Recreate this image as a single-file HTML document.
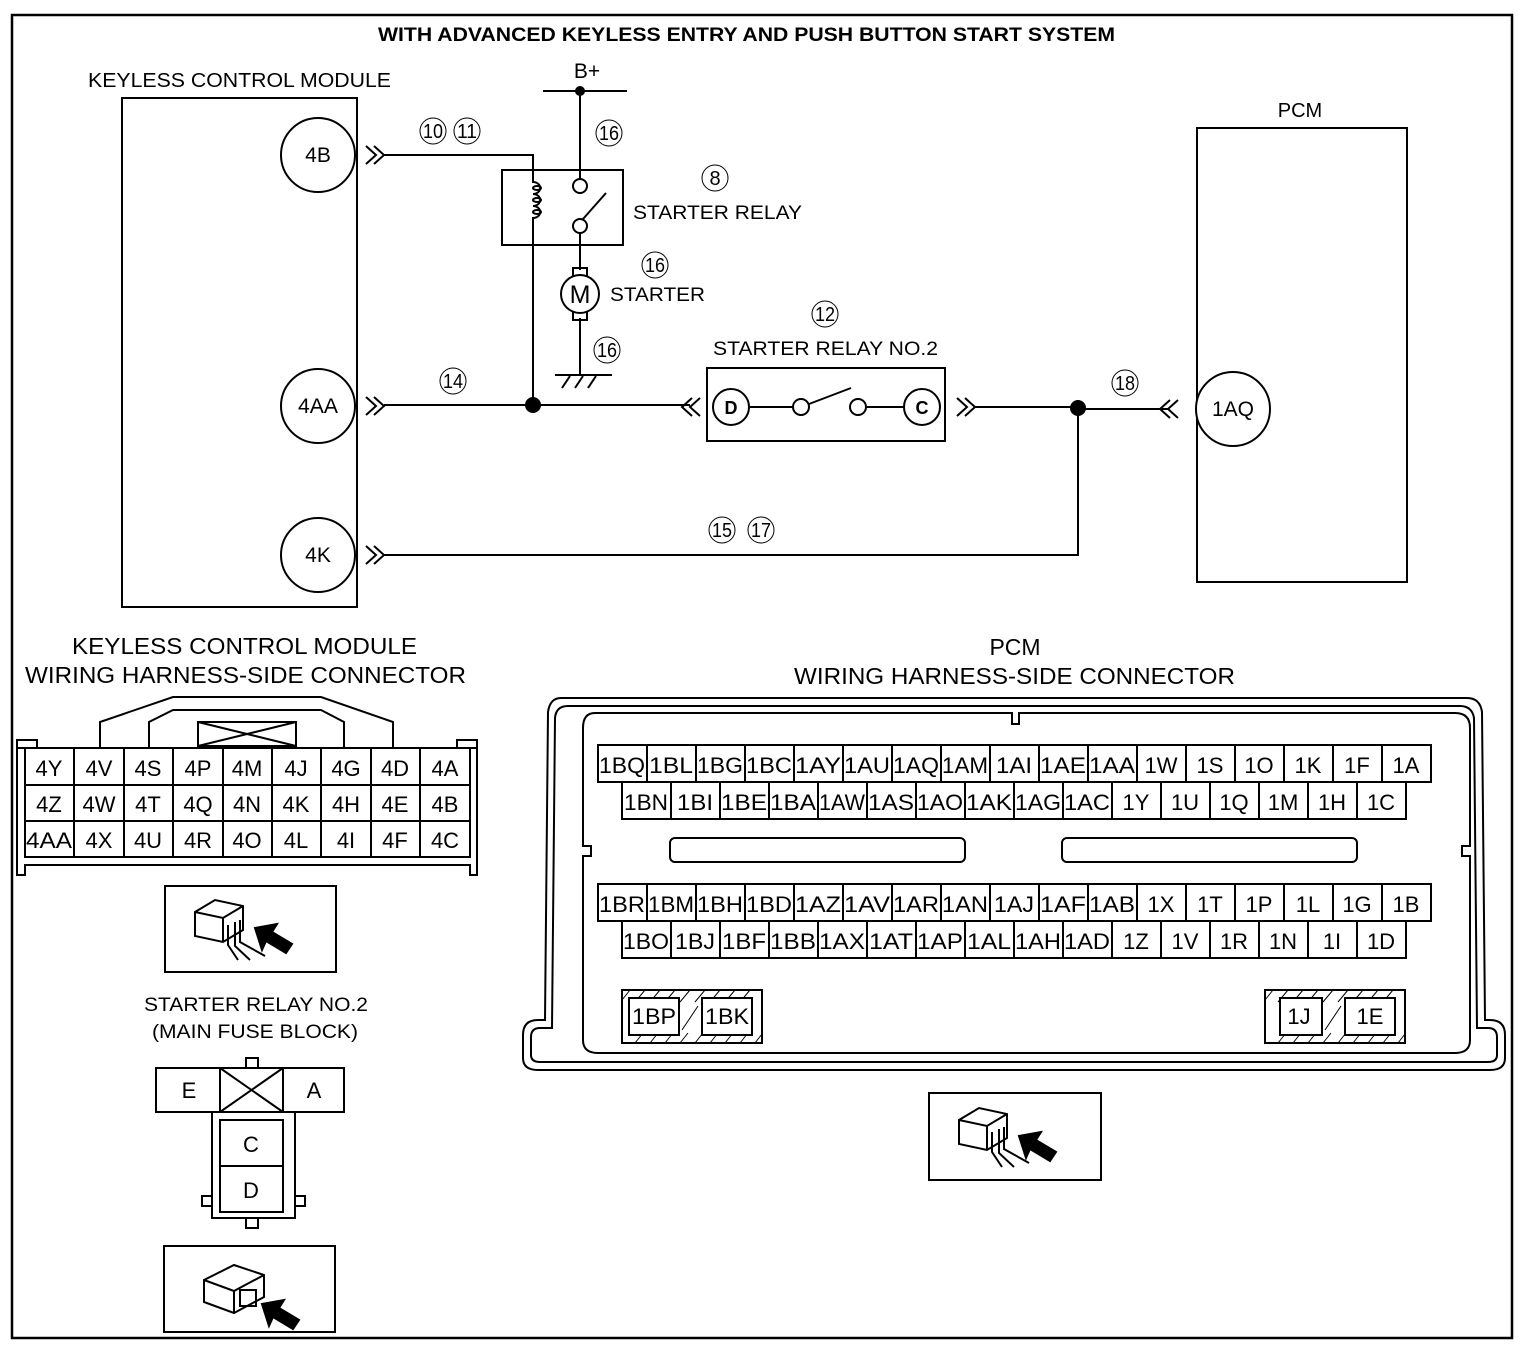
<!DOCTYPE html>
<html><head><meta charset="utf-8"><style>
html,body{margin:0;padding:0;background:#fff}
svg{display:block}
text{font-family:"Liberation Sans",sans-serif;fill:#000}
</style></head><body>
<svg width="1526" height="1350" viewBox="0 0 1526 1350" xmlns="http://www.w3.org/2000/svg">
<rect x="12" y="15" width="1500" height="1323" fill="none" stroke="#000" stroke-width="2.5"/>
<text x="378" y="41" font-size="19" font-weight="bold" textLength="737" lengthAdjust="spacingAndGlyphs">WITH ADVANCED KEYLESS ENTRY AND PUSH BUTTON START SYSTEM</text>
<text x="88" y="87" font-size="20" textLength="303" lengthAdjust="spacingAndGlyphs">KEYLESS CONTROL MODULE</text>
<text x="1300" y="117" font-size="20" text-anchor="middle">PCM</text>

<g fill="none" stroke="#000" stroke-width="2">
<rect x="122" y="98" width="235" height="509"/>
<rect x="1197" y="128" width="210" height="454"/>
<circle cx="318" cy="155" r="37" fill="#fff"/>
<circle cx="318" cy="406" r="37" fill="#fff"/>
<circle cx="318" cy="555" r="37" fill="#fff"/>
<circle cx="1233" cy="409" r="37" fill="#fff"/>
<path d="M366 146l10 9-10 9M374 146l10 9-10 9"/>
<path d="M366 397l10 9-10 9M374 397l10 9-10 9"/>
<path d="M366 546l10 9-10 9M374 546l10 9-10 9"/>
<path d="M700 398l-10 9 10 9M692 398l-10 9 10 9"/>
<path d="M957 398l10 9-10 9M965 398l10 9-10 9"/>
<path d="M1178 400l-10 9 10 9M1170 400l-10 9 10 9"/>
<path d="M384 155H533V170M533 245V405M384 405H690M975 407H1078V555H384M1078 409H1168"/>
<path d="M543 91H627M580 91V179M580 233V245M580 245V270M580 318V375M555 375H612"/>
<path d="M562 388l8-12M575 388l8-12M588 388l8-12"/>
<rect x="502" y="170" width="121" height="75"/>
<path d="M533 170V182 a6 5 0 0 1 0 12 a6 5 0 0 1 0 12 a6 5 0 0 1 0 12 V245"/>
<ellipse cx="537" cy="188" rx="4" ry="2"/><ellipse cx="537" cy="200" rx="4" ry="2"/><ellipse cx="537" cy="212" rx="4" ry="2"/>
<circle cx="580" cy="186" r="7" fill="#fff"/><circle cx="580" cy="226" r="7" fill="#fff"/>
<path d="M583 219L606 193"/>
<rect x="573" y="268" width="14" height="8"/><rect x="573" y="312" width="14" height="8"/>
<circle cx="580" cy="294" r="19" fill="#fff"/>
<rect x="707" y="368" width="238" height="73"/>
<circle cx="731" cy="407" r="18" fill="#fff"/><circle cx="922" cy="407" r="18" fill="#fff"/>
<path d="M749 407H793M866 407H904M809 404L851 388"/>
<circle cx="801" cy="407" r="8" fill="#fff"/><circle cx="858" cy="407" r="8" fill="#fff"/>
</g>
<circle cx="580" cy="91" r="5"/><circle cx="533" cy="405" r="8"/><circle cx="1078" cy="408" r="8"/>
<g font-size="21" text-anchor="middle">
<text x="318" y="162">4B</text><text x="318" y="413" textLength="40" lengthAdjust="spacingAndGlyphs">4AA</text><text x="318" y="562">4K</text><text x="1233" y="416">1AQ</text>
<text x="587" y="78">B+</text>
<text x="580" y="303" font-size="25">M</text>
<text x="731" y="414" font-size="18" font-weight="bold">D</text><text x="922" y="414" font-size="18" font-weight="bold">C</text>
</g>
<g font-size="19">
<text x="633" y="219" textLength="169" lengthAdjust="spacingAndGlyphs">STARTER RELAY</text>
<text x="610" y="301" textLength="95" lengthAdjust="spacingAndGlyphs">STARTER</text>
<text x="713" y="355" textLength="225" lengthAdjust="spacingAndGlyphs">STARTER RELAY NO.2</text>
</g>
<g fill="none" stroke="#000" stroke-width="1">
<circle cx="433" cy="131" r="13"/><circle cx="467" cy="131" r="13"/><circle cx="609" cy="133" r="13"/>
<circle cx="715" cy="178" r="13"/><circle cx="655" cy="265" r="13"/><circle cx="607" cy="350" r="13"/>
<circle cx="825" cy="314" r="13"/><circle cx="453" cy="381" r="13"/><circle cx="1125" cy="383" r="13"/>
<circle cx="722" cy="530" r="13"/><circle cx="761" cy="530" r="13"/>
</g>
<g font-size="20" text-anchor="middle">
<text x="433" y="138" textLength="20" lengthAdjust="spacingAndGlyphs">10</text>
<text x="467" y="138" textLength="20" lengthAdjust="spacingAndGlyphs">11</text>
<text x="609" y="140" textLength="20" lengthAdjust="spacingAndGlyphs">16</text>
<text x="715" y="185">8</text>
<text x="655" y="272" textLength="20" lengthAdjust="spacingAndGlyphs">16</text>
<text x="607" y="357" textLength="20" lengthAdjust="spacingAndGlyphs">16</text>
<text x="825" y="321" textLength="20" lengthAdjust="spacingAndGlyphs">12</text>
<text x="453" y="388" textLength="20" lengthAdjust="spacingAndGlyphs">14</text>
<text x="1125" y="390" textLength="20" lengthAdjust="spacingAndGlyphs">18</text>
<text x="722" y="537" textLength="20" lengthAdjust="spacingAndGlyphs">15</text>
<text x="761" y="537" textLength="20" lengthAdjust="spacingAndGlyphs">17</text>
</g>

<g font-size="23">
<text x="72" y="654" textLength="345" lengthAdjust="spacingAndGlyphs">KEYLESS CONTROL MODULE</text>
<text x="25" y="683" textLength="441" lengthAdjust="spacingAndGlyphs">WIRING HARNESS-SIDE CONNECTOR</text>
<text x="1015" y="655" text-anchor="middle">PCM</text>
<text x="794" y="684" textLength="441" lengthAdjust="spacingAndGlyphs">WIRING HARNESS-SIDE CONNECTOR</text>
</g>

<g fill="none" stroke="#000" stroke-width="2">
<path d="M100 748V722L173 697H321L393 722V748"/>
<path d="M149 748V722L173 710H321L344 722V748"/>
<rect x="198" y="722" width="98" height="24"/>
<path d="M198 722L296 746M296 722L198 746"/>
<path d="M17 748V740H37V748M457 748V740H477V748M17 748H477V875H470V865H25V875H17Z"/>
<rect x="25" y="748" width="445" height="109"/>
<path d="M25 785H470M25 821H470M74 748V857M124 748V857M173 748V857M223 748V857M272 748V857M321 748V857M371 748V857M420 748V857"/>
</g>
<g font-size="22" text-anchor="middle">
<text x="49" y="776">4Y</text><text x="99" y="776">4V</text><text x="148" y="776">4S</text><text x="198" y="776">4P</text><text x="247" y="776">4M</text><text x="296" y="776">4J</text><text x="346" y="776">4G</text><text x="395" y="776">4D</text><text x="445" y="776">4A</text>
<text x="49" y="812">4Z</text><text x="99" y="812">4W</text><text x="148" y="812">4T</text><text x="198" y="812">4Q</text><text x="247" y="812">4N</text><text x="296" y="812">4K</text><text x="346" y="812">4H</text><text x="395" y="812">4E</text><text x="445" y="812">4B</text>
<text x="49" y="848" textLength="46" lengthAdjust="spacingAndGlyphs">4AA</text><text x="99" y="848">4X</text><text x="148" y="848">4U</text><text x="198" y="848">4R</text><text x="247" y="848">4O</text><text x="296" y="848">4L</text><text x="346" y="848">4I</text><text x="395" y="848">4F</text><text x="445" y="848">4C</text>
</g>

<g fill="none" stroke="#000" stroke-width="2">
<rect x="165" y="886" width="171" height="86"/>
<path d="M195 912l20-12 28 6v24l-20 12-28-6z M195 912l28 6 20-12 M223 918v24"/>
<path d="M228 925v20l10 15M235 922v24l15 14M240 920v22l25 14"/>
<path d="M255 928l22-4-5 8 20 12-6 9-20-12-4 9z" fill="#000"/>
<rect x="929" y="1093" width="172" height="87"/>
<path d="M959 1120l20-12 28 6v24l-20 12-28-6z M959 1120l28 6 20-12 M987 1126v24"/>
<path d="M992 1132v20l10 15M999 1129v24l15 14M1004 1127v22l25 14"/>
<path d="M1019 1136l22-4-5 8 20 12-6 9-20-12-4 9z" fill="#000"/>
<rect x="164" y="1246" width="171" height="86"/>
<path d="M204 1280l30-15 30 10v22l-30 16-30-11z M204 1280l30 11 30-16 M234 1291v22"/>
<rect x="240" y="1290" width="16" height="16"/>
<path d="M262 1304l22-4-5 8 20 12-6 9-20-12-4 9z" fill="#000"/>
</g>

<g font-size="19">
<text x="144" y="1011" textLength="224" lengthAdjust="spacingAndGlyphs">STARTER RELAY NO.2</text>
<text x="152" y="1038" textLength="206" lengthAdjust="spacingAndGlyphs">(MAIN FUSE BLOCK)</text>
</g>
<g fill="none" stroke="#000" stroke-width="2">
<rect x="156" y="1068" width="188" height="44"/>
<path d="M220 1068V1112M283 1068V1112M220 1068L283 1112M283 1068L220 1112"/>
<rect x="246" y="1058" width="12" height="10"/>
<rect x="212" y="1112" width="83" height="106"/>
<rect x="220" y="1120" width="63" height="92"/>
<path d="M220 1166H283"/>
<rect x="202" y="1196" width="10" height="10"/><rect x="295" y="1196" width="10" height="10"/>
<rect x="246" y="1218" width="12" height="10"/>
</g>
<g font-size="22" text-anchor="middle">
<text x="189" y="1098">E</text><text x="314" y="1098">A</text>
<text x="251" y="1152">C</text><text x="251" y="1198">D</text>
</g>

<g fill="none" stroke="#000" stroke-width="2">
<path d="M561 698H1467Q1480 698 1482 712L1485 1020H1490Q1505 1020 1505 1035V1058Q1505 1070 1490 1070H538Q523 1070 523 1058V1035Q523 1020 538 1020H545L548 712Q550 698 561 698Z"/>
<path d="M568 706H1460Q1472 706 1474 718L1477 1028H1488Q1497 1028 1497 1037V1055Q1497 1062 1488 1062H540Q531 1062 531 1055V1037Q531 1028 540 1028H552L555 718Q556 706 568 706Z"/>
<path d="M595 713H1012V724H1019V713H1455Q1470 713 1470 728V846H1462V856H1470V1040Q1470 1053 1455 1053H598Q583 1053 583 1040V856H591V846H583V728Q583 713 595 713Z"/>
<rect x="670" y="838" width="295" height="24" rx="5"/>
<rect x="1062" y="838" width="295" height="24" rx="5"/>
<rect x="598" y="745" width="833" height="37"/>
<rect x="622" y="782" width="784" height="37"/>
<rect x="598" y="884" width="833" height="37"/>
<rect x="622" y="921" width="784" height="37"/>
<path d="M647 745v37M696 745v37M745 745v37M794 745v37M843 745v37M892 745v37M941 745v37M990 745v37M1039 745v37M1088 745v37M1137 745v37M1186 745v37M1235 745v37M1284 745v37M1333 745v37M1382 745v37"/>
<path d="M671 782v37M720 782v37M769 782v37M818 782v37M867 782v37M916 782v37M965 782v37M1014 782v37M1063 782v37M1112 782v37M1161 782v37M1210 782v37M1259 782v37M1308 782v37M1357 782v37"/>
<path d="M647 884v37M696 884v37M745 884v37M794 884v37M843 884v37M892 884v37M941 884v37M990 884v37M1039 884v37M1088 884v37M1137 884v37M1186 884v37M1235 884v37M1284 884v37M1333 884v37M1382 884v37"/>
<path d="M671 921v37M720 921v37M769 921v37M818 921v37M867 921v37M916 921v37M965 921v37M1014 921v37M1063 921v37M1112 921v37M1161 921v37M1210 921v37M1259 921v37M1308 921v37M1357 921v37"/>
<rect x="622" y="990" width="140" height="53"/>
<rect x="1265" y="990" width="140" height="53"/>
<path stroke-width="1" d="M630 990l-8 10M645 990l-10 12M660 990l-10 12M675 990l-10 12M690 990l-10 12M705 990l-10 12M720 990l-10 12M735 990l-10 12M750 990l-10 12M635 1043l8-10M650 1043l8-10M665 1043l8-10M680 1043l8-10M695 1043l8-10M710 1043l8-10M725 1043l8-10M740 1043l8-10M755 1043l7-9M682 1030l16-24"/>
<path stroke-width="1" d="M1273 990l-8 10M1288 990l-10 12M1303 990l-10 12M1318 990l-10 12M1333 990l-10 12M1348 990l-10 12M1363 990l-10 12M1378 990l-10 12M1393 990l-10 12M1278 1043l8-10M1293 1043l8-10M1308 1043l8-10M1323 1043l8-10M1338 1043l8-10M1353 1043l8-10M1368 1043l8-10M1383 1043l8-10M1398 1043l7-9M1325 1030l16-24"/>
<rect x="629" y="998" width="50" height="37" fill="#fff"/>
<rect x="702" y="998" width="50" height="37" fill="#fff"/>
<rect x="1280" y="998" width="42" height="37" fill="#fff"/>
<rect x="1345" y="998" width="50" height="37" fill="#fff"/>
</g>
<g font-size="22" text-anchor="middle">
<g transform="translate(0,773)">
<text x="622" textLength="46" lengthAdjust="spacingAndGlyphs">1BQ</text><text x="671" textLength="44" lengthAdjust="spacingAndGlyphs">1BL</text><text x="720" textLength="46" lengthAdjust="spacingAndGlyphs">1BG</text><text x="769" textLength="46" lengthAdjust="spacingAndGlyphs">1BC</text><text x="818" textLength="46" lengthAdjust="spacingAndGlyphs">1AY</text><text x="867" textLength="46" lengthAdjust="spacingAndGlyphs">1AU</text><text x="916" textLength="46" lengthAdjust="spacingAndGlyphs">1AQ</text><text x="965" textLength="46" lengthAdjust="spacingAndGlyphs">1AM</text><text x="1014" textLength="36" lengthAdjust="spacingAndGlyphs">1AI</text><text x="1063" textLength="46" lengthAdjust="spacingAndGlyphs">1AE</text><text x="1112" textLength="46" lengthAdjust="spacingAndGlyphs">1AA</text><text x="1161">1W</text><text x="1210">1S</text><text x="1259">1O</text><text x="1308">1K</text><text x="1357">1F</text><text x="1406">1A</text>
</g>
<g transform="translate(0,810)">
<text x="646" textLength="44" lengthAdjust="spacingAndGlyphs">1BN</text><text x="695" textLength="36" lengthAdjust="spacingAndGlyphs">1BI</text><text x="744" textLength="46" lengthAdjust="spacingAndGlyphs">1BE</text><text x="793" textLength="46" lengthAdjust="spacingAndGlyphs">1BA</text><text x="842" textLength="46" lengthAdjust="spacingAndGlyphs">1AW</text><text x="891" textLength="46" lengthAdjust="spacingAndGlyphs">1AS</text><text x="940" textLength="46" lengthAdjust="spacingAndGlyphs">1AO</text><text x="989" textLength="46" lengthAdjust="spacingAndGlyphs">1AK</text><text x="1038" textLength="46" lengthAdjust="spacingAndGlyphs">1AG</text><text x="1087" textLength="46" lengthAdjust="spacingAndGlyphs">1AC</text><text x="1136">1Y</text><text x="1185">1U</text><text x="1234">1Q</text><text x="1283">1M</text><text x="1332">1H</text><text x="1381">1C</text>
</g>
<g transform="translate(0,912)">
<text x="622" textLength="46" lengthAdjust="spacingAndGlyphs">1BR</text><text x="671" textLength="46" lengthAdjust="spacingAndGlyphs">1BM</text><text x="720" textLength="46" lengthAdjust="spacingAndGlyphs">1BH</text><text x="769" textLength="46" lengthAdjust="spacingAndGlyphs">1BD</text><text x="818" textLength="46" lengthAdjust="spacingAndGlyphs">1AZ</text><text x="867" textLength="46" lengthAdjust="spacingAndGlyphs">1AV</text><text x="916" textLength="46" lengthAdjust="spacingAndGlyphs">1AR</text><text x="965" textLength="46" lengthAdjust="spacingAndGlyphs">1AN</text><text x="1014" textLength="40" lengthAdjust="spacingAndGlyphs">1AJ</text><text x="1063" textLength="46" lengthAdjust="spacingAndGlyphs">1AF</text><text x="1112" textLength="46" lengthAdjust="spacingAndGlyphs">1AB</text><text x="1161">1X</text><text x="1210">1T</text><text x="1259">1P</text><text x="1308">1L</text><text x="1357">1G</text><text x="1406">1B</text>
</g>
<g transform="translate(0,949)">
<text x="646" textLength="46" lengthAdjust="spacingAndGlyphs">1BO</text><text x="695" textLength="40" lengthAdjust="spacingAndGlyphs">1BJ</text><text x="744" textLength="44" lengthAdjust="spacingAndGlyphs">1BF</text><text x="793" textLength="46" lengthAdjust="spacingAndGlyphs">1BB</text><text x="842" textLength="46" lengthAdjust="spacingAndGlyphs">1AX</text><text x="891" textLength="44" lengthAdjust="spacingAndGlyphs">1AT</text><text x="940" textLength="46" lengthAdjust="spacingAndGlyphs">1AP</text><text x="989" textLength="44" lengthAdjust="spacingAndGlyphs">1AL</text><text x="1038" textLength="46" lengthAdjust="spacingAndGlyphs">1AH</text><text x="1087" textLength="46" lengthAdjust="spacingAndGlyphs">1AD</text><text x="1136">1Z</text><text x="1185">1V</text><text x="1234">1R</text><text x="1283">1N</text><text x="1332">1I</text><text x="1381">1D</text>
</g>
<text x="654" y="1024" textLength="44" lengthAdjust="spacingAndGlyphs">1BP</text>
<text x="727" y="1024" textLength="44" lengthAdjust="spacingAndGlyphs">1BK</text>
<text x="1299" y="1024">1J</text>
<text x="1370" y="1024">1E</text>
</g>
</svg>
</body></html>
